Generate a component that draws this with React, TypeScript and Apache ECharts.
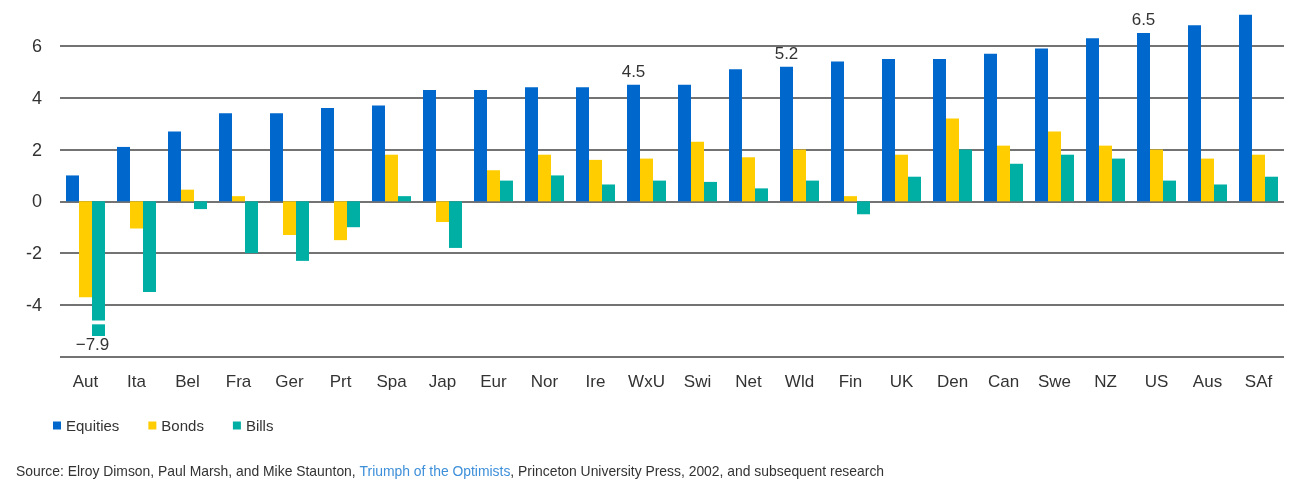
import React, { useEffect, useRef } from "react";
import * as echarts from "echarts";

const categories = ["Aut","Ita","Bel","Fra","Ger","Prt","Spa","Jap","Eur","Nor","Ire","WxU","Swi","Net","Wld","Fin","UK","Den","Can","Swe","NZ","US","Aus","SAf"];
const equities = [1.0,2.1,2.7,3.4,3.4,3.6,3.7,4.3,4.3,4.4,4.4,4.5,4.5,5.1,5.2,5.4,5.5,5.5,5.7,5.9,6.3,6.5,6.8,7.2];
const bonds = [-3.7,-1.05,0.45,0.2,-1.3,-1.5,1.8,-0.8,1.2,1.8,1.6,1.65,2.3,1.7,2.0,0.2,1.8,3.2,2.15,2.7,2.15,2.0,1.65,1.8];
const bills = [-4.6,-3.5,-0.3,-2.0,-2.3,-1.0,0.2,-1.8,0.8,1.0,0.65,0.8,0.75,0.5,0.8,-0.5,0.95,2.0,1.45,1.8,1.65,0.8,0.65,0.95];
// Aut bills (-7.9) is drawn truncated: a gap then a short tail segment
const billsGap = [-0.15,null,null,null,null,null,null,null,null,null,null,null,null,null,null,null,null,null,null,null,null,null,null,null];
const billsTail = [-0.45,null,null,null,null,null,null,null,null,null,null,null,null,null,null,null,null,null,null,null,null,null,null,null];
const billsTrueValue = ["−7.9"];
const labelledEquities = ["WxU","Wld","US"];
const yTicks = { min: -6, max: 7.6, interval: 2 };

const BLUE = "#0068CD";
const YELLOW = "#FFCD00";
const TEAL = "#00AFA3";

export default function App() {
  const ref = useRef<HTMLDivElement>(null);
  useEffect(() => {
    if (!ref.current) return;
    const chart = echarts.init(ref.current, null, { renderer: "svg" });
    const font = "Liberation Sans, Arial, Helvetica, sans-serif";
    chart.setOption({
      animation: false,
      textStyle: { fontFamily: font },
      grid: { left: 60, right: 26, top: 4.5, bottom: 128.3, containLabel: false },
      legend: {
        data: ["Equities", "Bonds", "Bills"],
        left: 48,
        top: 413,
        icon: "rect",
        itemWidth: 8,
        itemHeight: 8,
        itemGap: 29,
        textStyle: { fontSize: 15, color: "#333", fontFamily: font },
      },
      title: {
        left: 11,
        top: 459,
        text: "{a|Source: Elroy Dimson, Paul Marsh, and Mike Staunton, }{b|Triumph of the Optimists}{a|, Princeton University Press, 2002, and subsequent research}",
        textStyle: {
          fontWeight: "normal",
          rich: {
            a: { fontSize: 13.9, color: "#333", fontWeight: "normal", fontFamily: font },
            b: { fontSize: 13.9, color: "#3D8FD9", fontWeight: "normal", fontFamily: font },
          },
        },
      },
      xAxis: {
        type: "category",
        data: categories,
        axisLine: { show: false, onZero: false },
        axisTick: { show: false },
        axisLabel: { fontSize: 17, color: "#333", margin: 16, fontFamily: font },
      },
      yAxis: {
        type: "value",
        min: yTicks.min,
        max: yTicks.max,
        interval: yTicks.interval,
        axisLine: { show: false },
        axisTick: { show: false },
        axisLabel: { fontSize: 18, color: "#333", margin: 18, showMinLabel: false, showMaxLabel: false, fontFamily: font },
        splitLine: { show: true, showMaxLine: false, lineStyle: { color: "#444", width: 1.6 } },
      },
      series: [
        {
          name: "Equities",
          type: "bar",
          barWidth: 13,
          barGap: "0%",
          itemStyle: { color: BLUE },
          data: equities.map((v, i) =>
            labelledEquities.includes(categories[i])
              ? { value: v, label: { show: true, position: "top", distance: 5, fontSize: 17, color: "#333", fontFamily: font } }
              : v
          ),
        },
        { name: "Bonds", type: "bar", barWidth: 13, barGap: "0%", itemStyle: { color: YELLOW }, data: bonds },
        { name: "Bills", type: "bar", stack: "bills", barWidth: 13, barGap: "0%", itemStyle: { color: TEAL }, data: bills },
        { name: "gap", type: "bar", stack: "bills", barWidth: 13, barGap: "0%", itemStyle: { color: "rgba(0,0,0,0)" }, data: billsGap, silent: true },
        {
          name: "tail",
          type: "bar",
          stack: "bills",
          barWidth: 13,
          barGap: "0%",
          itemStyle: { color: TEAL },
          data: billsTail,
          label: {
            show: true,
            position: "bottom",
            distance: 0,
            offset: [-6, 0],
            fontSize: 17,
            color: "#333",
            fontFamily: font,
            formatter: (p: any) => billsTrueValue[p.dataIndex] ?? "",
          },
        },
      ],
    });
    return () => chart.dispose();
  }, []);
  return <div ref={ref} style={{ position: "fixed", left: 0, top: 0, width: 1310, height: 485 }} />;
}
